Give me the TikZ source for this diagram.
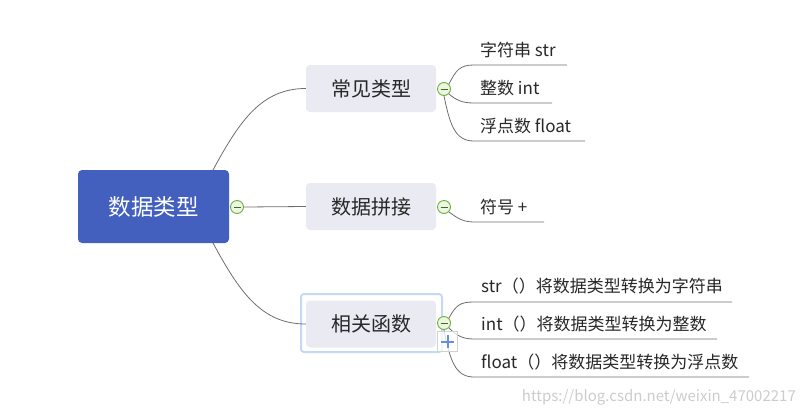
\documentclass[tikz,border=0pt]{standalone}
\usepackage{fontspec}
\setmainfont{Noto Sans CJK SC}
\definecolor{rootblue}{RGB}{67,96,190}
\definecolor{topicfill}{RGB}{233,234,242}
\definecolor{linegray}{RGB}{110,110,110}
\definecolor{foldgreen}{RGB}{108,176,60}
\definecolor{foldfill}{RGB}{236,246,226}
\definecolor{selblue}{RGB}{196,217,245}
\definecolor{plusblue}{RGB}{105,140,232}
\definecolor{textdark}{RGB}{40,40,40}
\definecolor{markgray}{RGB}{205,212,205}
\tikzset{
  rootbox/.style={fill=rootblue, draw=none, rounded corners=4pt, minimum width=151pt,
    minimum height=73pt, text=white, font=\fontsize{22.5}{24}\selectfont, inner sep=0pt},
  topicbox/.style={fill=topicfill, draw=none, rounded corners=4pt, minimum width=130pt,
    minimum height=47pt, text=textdark, font=\fontsize{20}{22}\selectfont, inner sep=0pt},
  leaftext/.style={anchor=west, text=textdark, font=\fontsize{17}{19}\selectfont, inner sep=0pt},
  link/.style={draw=linegray, line width=0.8pt},
  fold/.style={circle, draw=foldgreen, fill=foldfill, line width=0.9pt, minimum size=13pt, inner sep=0pt,
    path picture={\draw[foldgreen!60!black, line width=1pt] ([xshift=-3.5pt]path picture bounding box.center) -- ([xshift=3.5pt]path picture bounding box.center);}},
}
\begin{document}
\begin{tikzpicture}[x=1pt, y=-1pt]
\useasboundingbox (0,0) rectangle (802,416);

% central topic
\node[rootbox] (root) at (153.5,206.5) {数据类型};

% main topics
\node[topicbox] (common) at (371,88.5) {常见类型};
\node[topicbox] (concat) at (371,206.5) {数据拼接};
\node[topicbox] (funcs) at (371,324) {相关函数};
\draw[selblue, line width=2pt, rounded corners=3pt] (301,294) rectangle (442,352);

% links from the central topic
\coordinate (rtop) at (213,170);
\coordinate (rbot) at (213,243);
\draw[link] (rtop) .. controls (240,120) and (262,88.5) .. (common.west);
\draw[link] (rbot) .. controls (240,293) and (262,324) .. (funcs.west);

% fold markers
\node[fold] (f0) at (237,207) {};
\draw[link] (f0.east) -- (concat.west);
\node[fold] (f1) at (444,89) {};
\node[fold] (f2) at (444,207) {};
\node[fold] (f3) at (444,323) {};

% subtopics of 常见类型
\node[leaftext] (s1) at (480,50) {字符串 str};
\node[leaftext] (s2) at (480,88) {整数 int};
\node[leaftext] (s3) at (480,126) {浮点数 float};
\coordinate (u1) at (567,65);
\coordinate (u2) at (552,103);
\coordinate (u3) at (585,141);
\draw[link] (f1.north east) .. controls (456,70) and (460,65) .. (474,65) -- (u1);
\draw[link] (f1.south east) .. controls (456,100) and (462,103) .. (474,103) -- (u2);
\draw[link] (f1.south) .. controls (450,125) and (455,141) .. (474,141) -- (u3);

% subtopic of 数据拼接
\node[leaftext] (c1) at (480,207) {符号 +};
\coordinate (u4) at (544,222);
\draw[link] (f2.south east) .. controls (456,217) and (462,222) .. (474,222) -- (u4);

% subtopics of 相关函数
\node[leaftext] (g1) at (481,286) {str（）将数据类型转换为字符串};
\node[leaftext] (g2) at (481,324) {int（）将数据类型转换为整数};
\node[leaftext] (g3) at (481,362) {float（）将数据类型转换为浮点数};
\coordinate (u5) at (732,302);
\coordinate (u6) at (717,339);
\coordinate (u7) at (749,377);
\draw[link] (f3.north east) .. controls (456,305) and (460,302) .. (474,302) -- (u5);
\draw[link] (f3.south east) .. controls (456,335) and (462,339) .. (474,339) -- (u6);
\draw[link] (f3.south) .. controls (450,360) and (455,377) .. (474,377) -- (u7);

% add-subtopic button
\node[draw=markgray, fill=white, fill opacity=0.75, minimum size=20pt, inner sep=0pt] (addbtn) at (447.5,341.5) {};
\draw[plusblue, line width=2pt] ([xshift=-6.5pt]addbtn.center) -- ([xshift=6.5pt]addbtn.center)
  ([yshift=-6.5pt]addbtn.center) -- ([yshift=6.5pt]addbtn.center);

% watermark
\node[anchor=east, text=black!20, font=\fontsize{15}{17}\selectfont, inner sep=0pt] (wm) at (796,397) {https://blog.csdn.net/weixin\_47002217};
\end{tikzpicture}
\end{document}
